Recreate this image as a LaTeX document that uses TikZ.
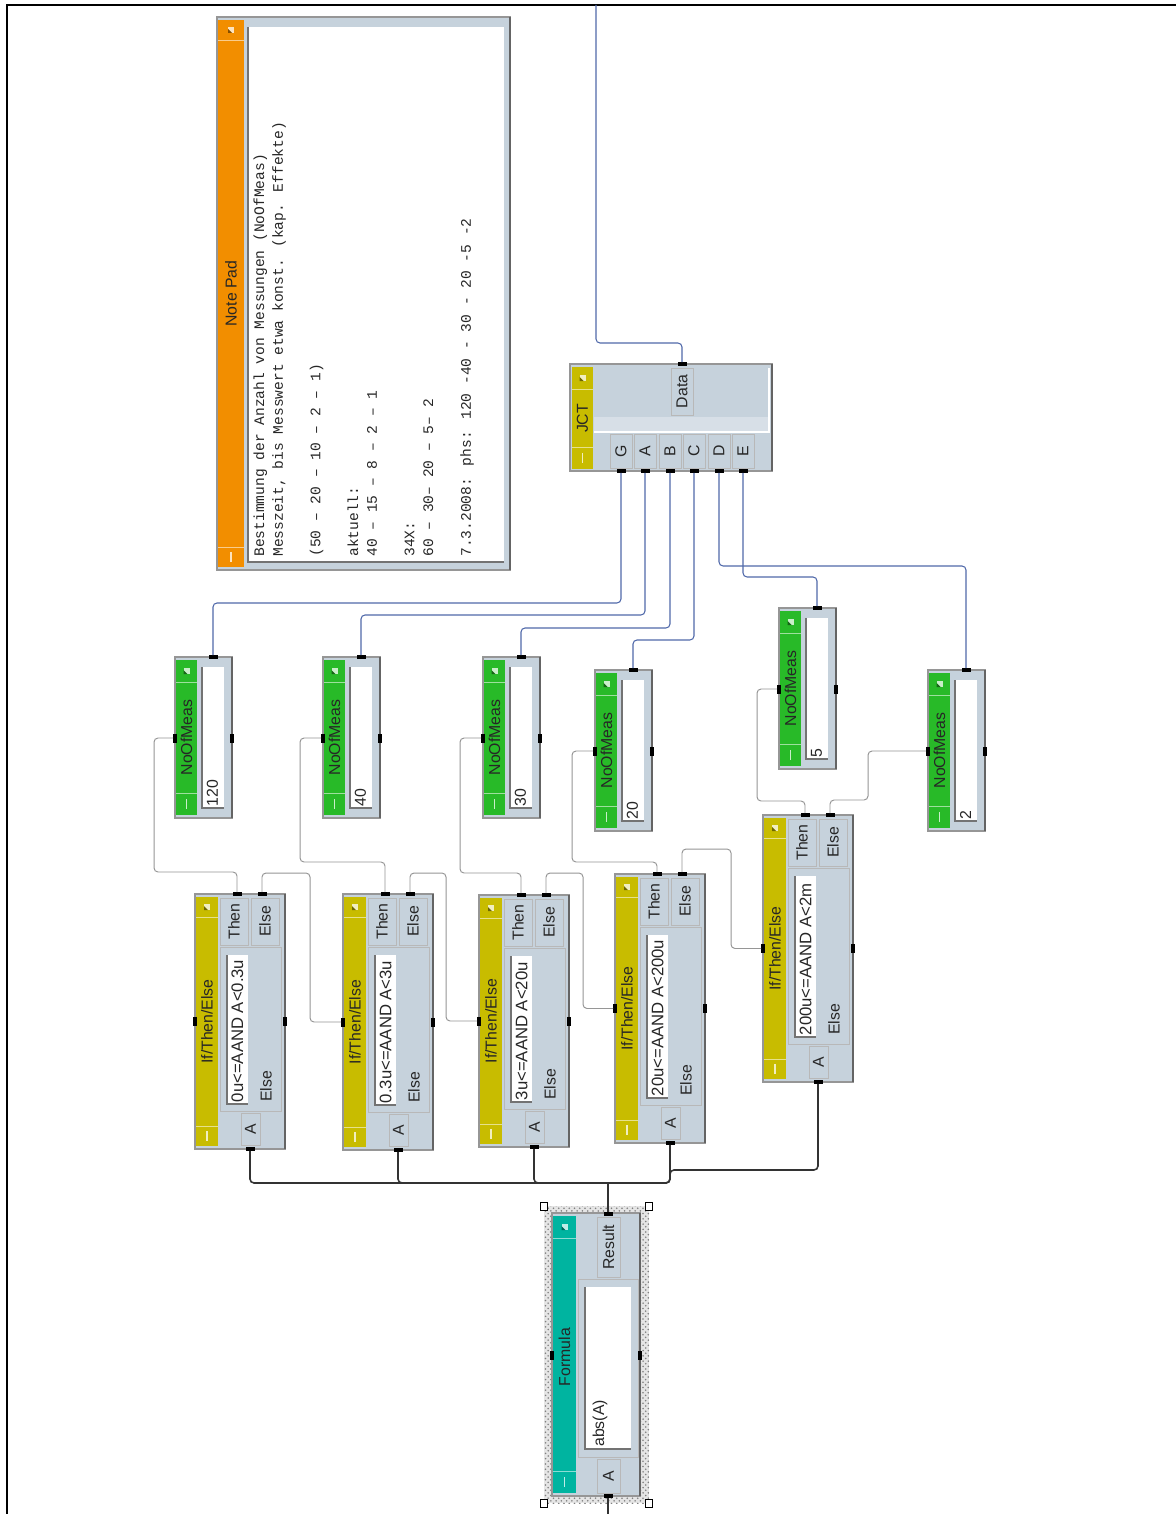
\documentclass[tikz,border=0pt]{standalone}
\usepackage{fontspec}
\setmainfont{Liberation Sans}
\newfontfamily\notemono{Liberation Mono}
\usetikzlibrary{calc,patterns}

\definecolor{panel}{RGB}{198,210,220}
\definecolor{framegray}{RGB}{150,150,150}
\definecolor{frameshadow}{RGB}{100,100,100}
\definecolor{yelbar}{RGB}{200,188,0}
\definecolor{grnbar}{RGB}{40,186,40}
\definecolor{tealbar}{RGB}{0,180,160}
\definecolor{orgbar}{RGB}{242,142,0}
\definecolor{wireblue}{RGB}{80,105,170}
\definecolor{wiregray}{RGB}{150,150,150}
\definecolor{sunken}{RGB}{115,115,115}

\newcommand{\condfont}{\fontsize{9.5}{11}\selectfont}

\tikzset{
  lbl/.style={font=\fontsize{9}{10}\selectfont, text=black!85, inner sep=0pt, rotate=90},
  notetxt/.style={font=\notemono\fontsize{8.3}{10}\selectfont, text=black!85, inner sep=0pt, rotate=90, anchor=base west},
  pinh/.style={fill=black, inner sep=0pt, minimum width=0.18cm, minimum height=0.065cm},
  pinv/.style={fill=black, inner sep=0pt, minimum width=0.065cm, minimum height=0.18cm},
  bwire/.style={draw=wireblue, line width=0.6pt, rounded corners=0.08cm},
  gwire/.style={draw=wiregray, line width=0.55pt, rounded corners=0.08cm},
  dwire/.style={draw=black!80, line width=0.9pt, rounded corners=0.08cm},
  btn/.style={fill=panel, draw=black!28, line width=0.5pt},
  boxframe/.style={draw=framegray, line width=0.6pt},
  boxshadow/.style={draw=frameshadow, line width=0.9pt},
}

% #1 colour, #2 x0, #3 y0, #4 x1, #5 y1, #6 size of end squares
\newcommand{\titlebar}[6]{%
  \fill[fill=#1] (#2,#3) rectangle (#4,#5);
  \draw[draw=#1!45!white, line width=0.5pt] (#2,#3+#6) -- (#4,#3+#6) (#2,#5-#6) -- (#4,#5-#6);
  \fill[fill=#1!25!white] ({(#2+#4)/2-3},{#3+#6/2-3}) rectangle ({(#2+#4)/2+3},{#3+#6/2+3});
  \fill[fill=#1!55!black] ({(#2+#4)/2-3},{#3+#6/2+3}) -- ({(#2+#4)/2+1},{#3+#6/2+3}) -- ({(#2+#4)/2-3},{#3+#6/2-1}) -- cycle;
  \draw[draw=#1!25!white, line width=0.8pt] ({(#2+#4)/2},{#5-#6/2-5}) -- ({(#2+#4)/2},{#5-#6/2+5});
}

% If/Then/Else block: #1 name, #2 x0, #3 y0, #4 y1, #5 condition
\newcommand{\ifblk}[5]{%
  \fill[panel] (#2,#3) rectangle (#2+90,#4);
  \draw[boxframe] (#2,#3) rectangle (#2+90,#4);
  \draw[boxshadow] (#2+90,#3) -- (#2+90,#4);
  \titlebar{yelbar}{#2+1}{#3+3}{#2+23}{#4-3}{20}
  \node[lbl] (#1lab) at ({#2+12},{(#3+#4)/2}) {If/Then/Else};
  \draw[btn] (#2+25,#3+4) rectangle (#2+53,#3+51);
  \node[lbl] (#1thenlab) at (#2+39,#3+27.5) {Then};
  \draw[btn] (#2+56,#3+4) rectangle (#2+84,#3+51);
  \node[lbl] (#1elselab) at (#2+70,#3+27.5) {Else};
  \draw[btn] (#2+25,#3+53) rectangle (#2+86,#4-38);
  \fill[white] (#2+32,#3+61) rectangle (#2+53,#4-45);
  \draw[sunken, line width=0.8pt] (#2+32,#3+61) -- (#2+32,#4-45) -- (#2+53,#4-45);
  \node[lbl, font=\condfont, anchor=west] (#1cond) at (#2+42.5,#4-46.5) {#5};
  \node[lbl, anchor=west] (#1else) at (#2+71,#4-47) {Else};
  \draw[btn] (#2+46,#4-36) rectangle (#2+65,#4-4);
  \node[lbl] (#1alab) at (#2+55.5,#4-20) {A};
  \node[pinh] (#1T) at (#2+42,#3) {};
  \node[pinh] (#1E) at (#2+67,#3) {};
  \node[pinv] (#1L) at ({#2},{(#3+#4)/2}) {};
  \node[pinv] (#1R) at ({#2+90},{(#3+#4)/2}) {};
  \node[pinh] (#1B) at (#2+55,#4) {};
}

% NoOfMeas block: #1 name, #2 x0, #3 y0, #4 value
\newcommand{\nomblk}[4]{%
  \fill[panel] (#2,#3) rectangle (#2+57,#3+161);
  \draw[boxframe] (#2,#3) rectangle (#2+57,#3+161);
  \draw[boxshadow] (#2+57,#3) -- (#2+57,#3+161);
  \titlebar{grnbar}{#2+1}{#3+3}{#2+22}{#3+158}{22}
  \node[lbl] (#1lab) at (#2+11.5,#3+80.5) {NoOfMeas};
  \fill[white] (#2+27,#3+10) rectangle (#2+49,#3+151);
  \draw[sunken, line width=1pt] (#2+27,#3+10) -- (#2+27,#3+151) -- (#2+49,#3+151);
  \node[lbl, anchor=west] (#1val) at (#2+37.5,#3+149.5) {#4};
  \node[pinh] (#1T) at (#2+38,#3) {};
  \node[pinv] (#1L) at (#2,#3+81) {};
  \node[pinv] (#1R) at (#2+57,#3+81) {};
}

\begin{document}
\begin{tikzpicture}[x=0.02cm, y=-0.02cm]
\useasboundingbox (0,0) rectangle (1176,1514);
\fill[white] (0,0) rectangle (1176,1514);
\draw[black, line width=1.2pt] (7,1514) -- (7,5) -- (1176,5);

% ---------------- Note Pad ----------------
\fill[panel] (217,17) rectangle (510,570);
\draw[boxframe] (217,17) rectangle (510,570);
\draw[boxshadow] (510,17) -- (510,570);
\titlebar{orgbar}{218}{20}{244}{567}{20}
\node[lbl] (nptitle) at (231,293.5) {Note Pad};
\fill[white] (248,27) rectangle (504,562);
\draw[sunken, line width=1pt] (248,27) -- (248,562) -- (504,562);
\node[notetxt] (np1) at (264,557) {Bestimmung der Anzahl von Messungen (NoOfMeas)};
\node[notetxt] (np2) at (282.8,557) {Messzeit, bis Messwert etwa konst. (kap. Effekte)};
\node[notetxt] (np3) at (320.4,557) {(50 – 20 – 10 – 2 – 1)};
\node[notetxt] (np4) at (358,557) {aktuell:};
\node[notetxt] (np5) at (376.8,557) {40 – 15 – 8 – 2 – 1};
\node[notetxt] (np6) at (414.4,557) {34X:};
\node[notetxt] (np7) at (433.2,557) {60 – 30– 20 – 5– 2};
\node[notetxt] (np8) at (470.8,557) {7.3.2008: phs: 120 -40 - 30 - 20 -5 -2};

% ---------------- JCT ----------------
\fill[panel] (570,364) rectangle (772,471);
\draw[boxframe] (570,364) rectangle (772,471);
\draw[boxshadow] (772,364) -- (772,471);
\titlebar{yelbar}{572}{367}{593}{469}{22}
\node[lbl] (jctlab) at (582.5,418.5) {JCT};
\draw[btn] (671,368) rectangle (693,415);
\node[lbl] (jctdatalab) at (682,391.5) {Data};
\fill[panel!70!white] (594,417) rectangle (769,432);
\draw[white, line width=0.7pt] (594,432) -- (769,432) -- (769,368);
\draw[btn] (610,434) rectangle (632,468); \node[lbl] (jgl) at (621,451) {G};
\draw[btn] (634,434) rectangle (656,468); \node[lbl] (jal) at (645,451) {A};
\draw[btn] (659,434) rectangle (681,468); \node[lbl] (jbl) at (670,451) {B};
\draw[btn] (683,434) rectangle (705,468); \node[lbl] (jcl) at (694,451) {C};
\draw[btn] (708,434) rectangle (730,468); \node[lbl] (jdl) at (719,451) {D};
\draw[btn] (732,434) rectangle (754,468); \node[lbl] (jel) at (743,451) {E};
\node[pinh] (jpData) at (682,364) {};
\node[pinh] (jpG) at (621,471) {};
\node[pinh] (jpA) at (645,471) {};
\node[pinh] (jpB) at (670,471) {};
\node[pinh] (jpC) at (694,471) {};
\node[pinh] (jpD) at (719,471) {};
\node[pinh] (jpE) at (743,471) {};

% ---------------- NoOfMeas ----------------
\nomblk{n1}{175}{657}{120}
\nomblk{n2}{323}{657}{40}
\nomblk{n3}{483}{657}{30}
\nomblk{n4}{595}{670}{20}
\nomblk{n5}{779}{608}{5}
\nomblk{n6}{928}{670}{2}

% ---------------- If/Then/Else ----------------
\ifblk{if1}{195}{894}{1149}{0u<=AAND A<0.3u}
\ifblk{if2}{343}{894}{1150}{0.3u<=AAND A<3u}
\ifblk{if3}{479}{895}{1147}{3u<=AAND A<20u}
\ifblk{if4}{615}{874}{1143}{20u<=AAND A<200u}
\ifblk{if5}{763}{815}{1082}{200u<=AAND A<2m}

% ---------------- Formula ----------------
\fill[black!10] (544,1206) rectangle (649,1503);
\fill[pattern=crosshatch dots, pattern color=black!50] (544,1206) rectangle (649,1503);
\fill[panel] (552,1213) rectangle (640,1496);
\draw[boxframe] (552,1213) rectangle (640,1496);
\draw[boxshadow] (640,1213) -- (640,1496);
\titlebar{tealbar}{553}{1216}{576}{1493}{22}
\node[lbl] (flab) at (564.5,1357) {Formula};
\draw[btn] (597,1217) rectangle (620,1277);
\node[lbl] (fres) at (608.5,1247) {Result};
\draw[btn] (578,1279) rectangle (638,1457);
\fill[white] (585,1287) rectangle (631,1449);
\draw[sunken, line width=1pt] (585,1287) -- (585,1449) -- (631,1449);
\node[lbl, anchor=west] (fexpr) at (600,1447) {abs(A)};
\draw[btn] (597,1459) rectangle (620,1493);
\node[lbl] (falab) at (608.5,1476) {A};
\draw[fill=white, line width=0.5pt] (540.5,1202) rectangle (547.5,1210);
\draw[fill=white, line width=0.5pt] (645.5,1202) rectangle (652.5,1210);
\draw[fill=white, line width=0.5pt] (540.5,1499) rectangle (547.5,1507);
\draw[fill=white, line width=0.5pt] (645.5,1499) rectangle (652.5,1507);
\node[pinh] (fR) at (608,1214) {};
\node[pinh] (fA) at (608,1496) {};
\node[pinv] (fL) at (552,1355) {};
\node[pinv] (fRt) at (640,1355) {};

% ---------------- connectors ----------------
\coordinate (topend) at (596,5);
\coordinate (botend) at (608,1514);
\coordinate (busj) at (608,1183);

\draw[bwire] (jpData.north) -- ++(0,-19) -| (topend);
\draw[bwire] (jpG.south) -- ++(0,130) -| (n1T.north);
\draw[bwire] (jpA.south) -- ++(0,142) -| (n2T.north);
\draw[bwire] (jpB.south) -- ++(0,155) -| (n3T.north);
\draw[bwire] (jpC.south) -- ++(0,167) -| (n4T.north);
\draw[bwire] (jpD.south) -- ++(0,93) -| (n6T.north);
\draw[bwire] (jpE.south) -- ++(0,104) -| (n5T.north);

\draw[gwire] (n1L.west) -| ++(-19,134) -| (if1T.north);
\draw[gwire] (n2L.west) -| ++(-21,124) -| (if2T.north);
\draw[gwire] (n3L.west) -| ++(-21,135) -| (if3T.north);
\draw[gwire] (n4L.west) -| ++(-21,111) -| (if4T.north);
\draw[gwire] (n5L.west) -| ++(-20,112) -| (if5T.north);
\draw[gwire] (n6L.west) -| ++(-58,49) -| (if5E.north);

\draw[gwire] (if1E.north) -- ++(0,-19) -| ([xshift=-0.62cm]if2L.west) -- (if2L.west);
\draw[gwire] (if2E.north) -- ++(0,-19) -| ([xshift=-0.62cm]if3L.west) -- (if3L.west);
\draw[gwire] (if3E.north) -- ++(0,-20) -| ([xshift=-0.60cm]if4L.west) -- (if4L.west);
\draw[gwire] (if4E.north) -- ++(0,-23) -| ([xshift=-0.60cm]if5L.west) -- (if5L.west);

\draw[dwire] (if1B.south) |- (busj);
\draw[dwire] (if2B.south) |- (busj);
\draw[dwire] (if3B.south) |- (busj);
\draw[dwire] (if4B.south) |- (busj);
\draw[dwire] (if5B.south) -- ++(0,86) -| ([xshift=1.24cm]busj) -- (busj);
\draw[dwire] (busj) -- (fR.north);
\draw[dwire] (fA.south) -- (botend);
\end{tikzpicture}
\end{document}
